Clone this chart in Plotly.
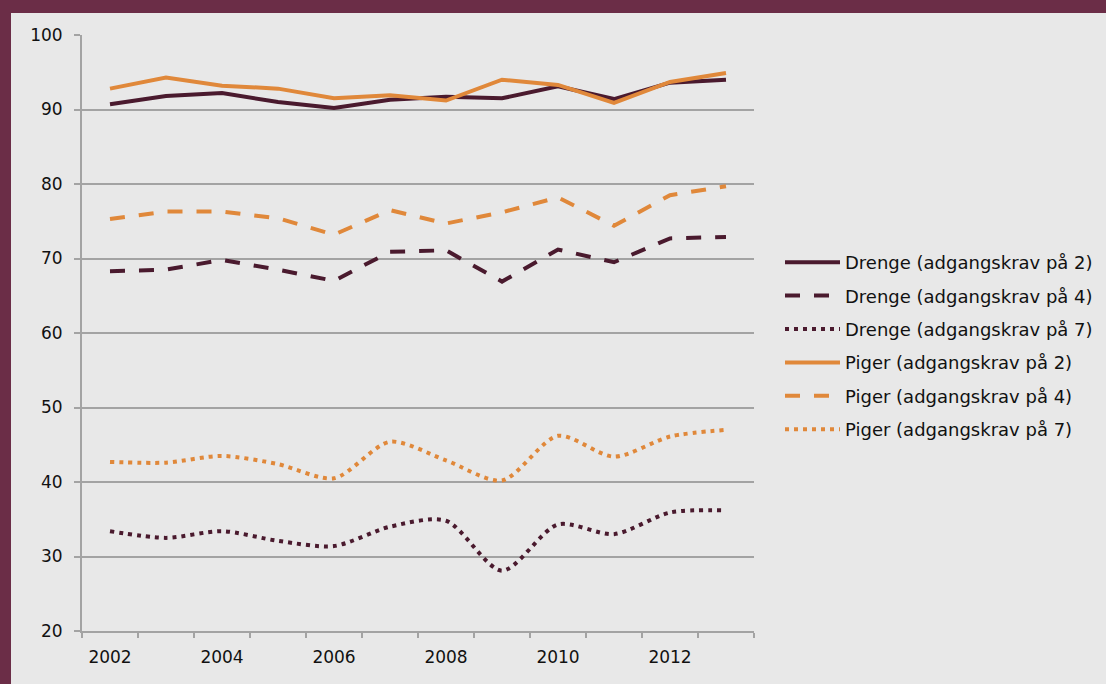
import plotly.graph_objects as go

years = [2002, 2003, 2004, 2005, 2006, 2007, 2008, 2009, 2010, 2011, 2012, 2013]
tick_years = [2002, 2004, 2006, 2008, 2010, 2012]
tick_labels = ["2002", "2004", "2006", "2008", "2010", "2012"]
y_ticks = [20, 30, 40, 50, 60, 70, 80, 90, 100]

drenge_2 = [90.7, 91.8, 92.2, 91.0, 90.2, 91.3, 91.7, 91.5, 93.1, 91.4, 93.6, 94.0]
drenge_4 = [68.3, 68.5, 69.8, 68.5, 67.0, 70.9, 71.1, 66.9, 71.2, 69.5, 72.7, 72.9]
drenge_7 = [33.4, 32.5, 33.4, 32.1, 31.4, 34.0, 34.8, 28.1, 34.3, 33.0, 35.9, 36.2]
piger_2 = [92.8, 94.3, 93.2, 92.8, 91.5, 91.9, 91.2, 94.0, 93.3, 90.9, 93.7, 94.9]
piger_4 = [75.3, 76.3, 76.3, 75.4, 73.2, 76.5, 74.7, 76.2, 78.2, 74.4, 78.5, 79.7]
piger_7 = [42.7, 42.6, 43.5, 42.4, 40.5, 45.4, 42.9, 40.2, 46.2, 43.4, 46.1, 47.0]

MAROON = "#4a1a2e"
ORANGE = "#e0883a"
FRAME = "#6b2d47"
BG = "#e8e8e8"
GRID = "#a3a3a3"

series = [
    ("Drenge (adgangskrav på 2)", drenge_2, MAROON, "solid", "linear"),
    ("Drenge (adgangskrav på 4)", drenge_4, MAROON, "15px,14px", "linear"),
    ("Drenge (adgangskrav på 7)", drenge_7, MAROON, "4px,5px", "spline"),
    ("Piger (adgangskrav på 2)", piger_2, ORANGE, "solid", "linear"),
    ("Piger (adgangskrav på 4)", piger_4, ORANGE, "15px,14px", "linear"),
    ("Piger (adgangskrav på 7)", piger_7, ORANGE, "4px,5px", "spline"),
]

fig = go.Figure()
for i, (name, vals, color, dash, shape) in enumerate(series):
    fig.add_trace(go.Scatter(
        x=years, y=vals, name=name, mode="lines",
        line=dict(color=color, width=4, dash=dash, shape=shape, smoothing=0.8),
        legendgroup=f"g{i}",
    ))

W, H = 1106, 684
L, R, T, B = 82, 352, 35, 53
pw, ph = W - L - R, H - T - B

def px_x(p):
    return (p - L) / pw

def px_y(p):
    return (H - B - p) / ph

fig.update_layout(
    width=W, height=H,
    margin=dict(l=L, r=R, t=T, b=B, pad=0, autoexpand=False),
    paper_bgcolor=BG, plot_bgcolor=BG,
    font=dict(family="DejaVu Sans", size=17, color="#111111"),
    showlegend=True,
    legend=dict(
        x=px_x(780), xanchor="left", y=px_y(346), yanchor="middle",
        bgcolor="rgba(0,0,0,0)", font=dict(size=18),
        traceorder="grouped", tracegroupgap=7, itemwidth=55,
    ),
    xaxis=dict(
        range=[2001.5, 2013.5], tickvals=tick_years, ticktext=tick_labels,
        ticks="", showgrid=False, zeroline=False,
        showline=True, linecolor=GRID, linewidth=2,
        ticklabelstandoff=10,
        minor=dict(tickvals=[y - 0.5 for y in years] + [years[-1] + 0.5],
                   ticks="outside", ticklen=5, tickcolor=GRID, tickwidth=1.5,
                   showgrid=False),
    ),
    yaxis=dict(
        range=[20, 100], tickvals=y_ticks,
        ticks="outside", ticklen=6, tickcolor=GRID, tickwidth=1.5,
        showgrid=True, gridcolor=GRID, gridwidth=1.5, zeroline=False,
        showline=True, linecolor=GRID, linewidth=2,
        ticklabelstandoff=8,
    ),
    shapes=[
        dict(type="rect", xref="paper", yref="paper",
             x0=px_x(0), x1=px_x(W), y0=px_y(13), y1=px_y(0),
             fillcolor=FRAME, line=dict(width=0), layer="above"),
        dict(type="rect", xref="paper", yref="paper",
             x0=px_x(0), x1=px_x(11), y0=px_y(H), y1=px_y(0),
             fillcolor=FRAME, line=dict(width=0), layer="above"),
    ],
)

fig.write_html(
    "out.html",
    config={"displayModeBar": False},
    post_script="document.body.style.margin='0';document.body.style.overflow='hidden';",
)
